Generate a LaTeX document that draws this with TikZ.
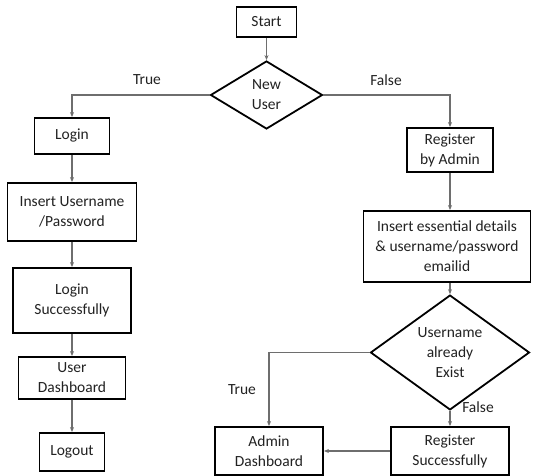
\documentclass[tikz,border=0pt]{standalone}
\usepackage{fontspec}
\setmainfont{Carlito}
\usetikzlibrary{shapes.geometric,arrows.meta}
\definecolor{txt}{HTML}{222222}
\definecolor{conn}{HTML}{6E6E6E}
\tikzset{
  box/.style={draw=black,line width=1.8pt,rectangle,inner sep=0pt,align=center,text=txt,
    font=\fontsize{15.5}{20}\selectfont},
  dec/.style={draw=black,line width=1.8pt,diamond,inner sep=0pt,align=center,text=txt,
    font=\fontsize{15.5}{20}\selectfont},
  conn/.style={draw=conn,line width=1.1pt,-{Stealth[length=5pt,width=4pt]}},
  lbl/.style={text=txt,font=\fontsize{15.5}{20}\selectfont,inner sep=0pt}
}
\begin{document}
\begin{tikzpicture}[x=1pt,y=-1pt]
\useasboundingbox[fill=white] (0,0) rectangle (533,476);
% left column
\node[box,minimum width=60pt,minimum height=30pt] (start) at (266.5,22) {Start};
\node[dec,minimum width=112pt,minimum height=68pt] (nu) at (266.5,95) {New\\User};
\node[box,minimum width=75pt,minimum height=36pt] (login) at (72,136) {Login};
\node[box,minimum width=129pt,minimum height=58pt] (iu) at (72,212) {Insert Username\\/Password};
\node[box,minimum width=118pt,minimum height=65pt] (ls) at (72,300.5) {Login\\Successfully};
\node[box,minimum width=107pt,minimum height=42pt] (ud) at (72,378) {User\\Dashboard};
\node[box,minimum width=65pt,minimum height=38pt] (lo) at (72,452) {Logout};
% right column
\node[box,minimum width=86pt,minimum height=44pt] (reg) at (450,150) {Register\\by Admin};
\node[box,minimum width=167pt,minimum height=71pt] (ie) at (447,246.5) {Insert essential details\\\& username/password\\emailid};
\node[dec,minimum width=159pt,minimum height=81pt] (ue) at (450,352.5) {Username\\already\\Exist};
\node[box,minimum width=108pt,minimum height=48pt] (ad) at (269,451) {Admin\\Dashboard};
\node[box,minimum width=118pt,minimum height=48pt] (rs) at (450,451) {Register\\Successfully};
% labels
\node[lbl] (t1) at (147,80) {True};
\node[lbl] (f1) at (386,80) {False};
\node[lbl] (t2) at (242,390) {True};
\node[lbl] (f2) at (478,407) {False};
% connectors
\draw[conn] (start.south) -- (nu.north);
\draw[conn] (nu.west) -| (login.north);
\draw[conn] (nu.east) -| (reg.north);
\draw[conn] (login.south) -- (iu.north);
\draw[conn] (iu.south) -- (ls.north);
\draw[conn] (ls.south) -- (ud.north);
\draw[conn] (ud.south) -- (lo.north);
\draw[conn] (reg.south) -- (reg.south |- ie.north);
\draw[conn] (reg.south |- ie.south) -- (ue.north);
\draw[conn] (ue.west) -| (ad.north);
\draw[conn] (ue.south) -- (rs.north);
\draw[conn] (rs.west) -- (ad.east);
\end{tikzpicture}
\end{document}
